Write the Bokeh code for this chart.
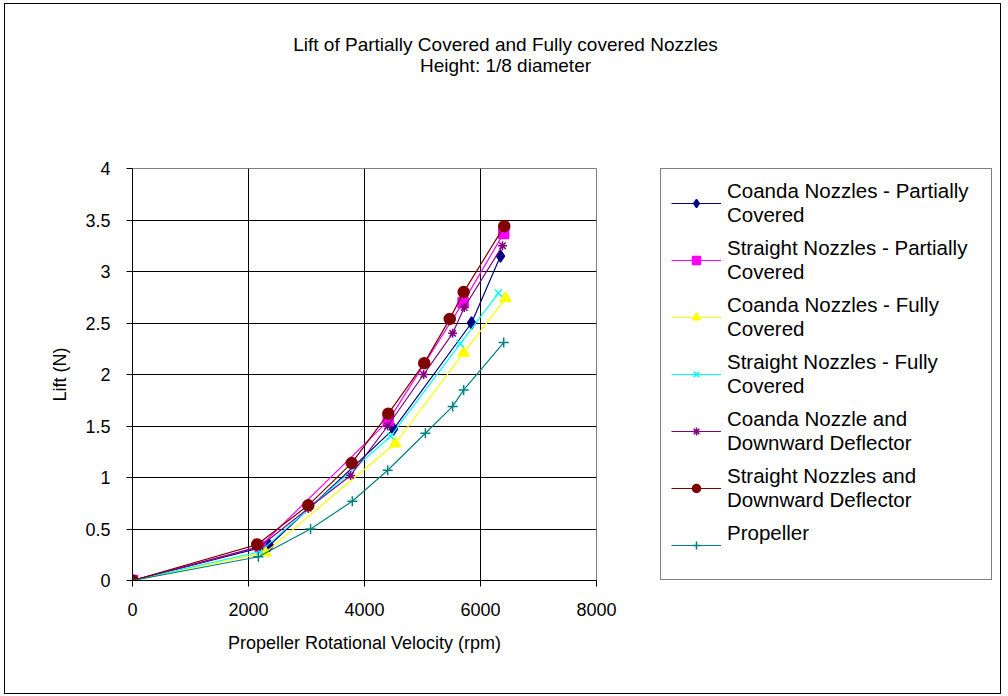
from bokeh.plotting import figure
from bokeh.models import Legend, LegendItem, FixedTicker, Range1d
from bokeh.layouts import column, row
from bokeh.embed import file_html
from bokeh.resources import INLINE
from bokeh.core.properties import value

# ---- data ----
coanda_partial_rpm = [0, 2360, 4500, 5845, 6345]
coanda_partial_lift = [0, 0.34, 1.47, 2.50, 3.15]

straight_partial_rpm = [0, 2200, 4410, 5700, 6400]
straight_partial_lift = [0, 0.33, 1.55, 2.70, 3.37]

coanda_full_rpm = [0, 2290, 4530, 5710, 6430]
coanda_full_lift = [0, 0.27, 1.33, 2.21, 2.74]

straight_full_rpm = [0, 2200, 4450, 5650, 6310]
straight_full_lift = [0, 0.28, 1.40, 2.30, 2.79]

coanda_defl_rpm = [0, 2200, 3030, 3760, 4400, 5020, 5520, 5720, 6380]
coanda_defl_lift = [0, 0.33, 0.70, 1.02, 1.50, 2.00, 2.40, 2.65, 3.25]

straight_defl_rpm = [0, 2150, 3030, 3780, 4410, 5030, 5470, 5710, 6410]
straight_defl_lift = [0, 0.35, 0.73, 1.14, 1.62, 2.11, 2.54, 2.80, 3.44]

propeller_rpm = [0, 2170, 3070, 3790, 4400, 5050, 5520, 5710, 6400]
propeller_lift = [0, 0.23, 0.50, 0.77, 1.07, 1.43, 1.69, 1.85, 2.31]

series_names = [
    "Coanda Nozzles - Partially\nCovered",
    "Straight Nozzles - Partially\nCovered",
    "Coanda Nozzles - Fully\nCovered",
    "Straight Nozzles - Fully\nCovered",
    "Coanda Nozzle and\nDownward Deflector",
    "Straight Nozzles and\nDownward Deflector",
    "Propeller\n ",
]
series_x = [coanda_partial_rpm, straight_partial_rpm, coanda_full_rpm, straight_full_rpm,
            coanda_defl_rpm, straight_defl_rpm, propeller_rpm]
series_y = [coanda_partial_lift, straight_partial_lift, coanda_full_lift, straight_full_lift,
            coanda_defl_lift, straight_defl_lift, propeller_lift]
series_colors = ["#000080", "#FF00FF", "#FFFF00", "#00FFFF", "#800080", "#800000", "#008080"]
series_markers = ["diamond", "square", "triangle", "x", "asterisk", "circle", "cross"]
series_sizes = [12, 10, 11, 10, 9, 11, 10]

title_line1 = "Lift of Partially Covered and Fully covered Nozzles"
title_line2 = "Height: 1/8 diameter"

x_ticks = [0, 2000, 4000, 6000, 8000]
y_ticks = [0, 0.5, 1, 1.5, 2, 2.5, 3, 3.5, 4]

FONT = "Liberation Sans"

TOTAL_W, TOTAL_H = 995, 689
TITLE_H = 110
BODY_H = TOTAL_H - TITLE_H
MAIN_W = 621
LEG_W = TOTAL_W - MAIN_W


def blank_figure(w, h, xr, yr):
    f = figure(width=w, height=h, output_backend="svg", toolbar_location=None,
               x_range=xr, y_range=yr, x_axis_type=None, y_axis_type=None,
               min_border=0, min_border_left=0, min_border_right=0,
               min_border_top=0, min_border_bottom=0)
    f.outline_line_color = None
    f.xgrid.visible = False
    f.ygrid.visible = False
    f.background_fill_color = "white"
    f.border_fill_color = "white"
    return f


# ---- title strip ----
tfig = blank_figure(TOTAL_W, TITLE_H, Range1d(0, TOTAL_W), Range1d(0, TITLE_H))
tfig.text(x=[500, 500], y=[TITLE_H - 40, TITLE_H - 61], text=[title_line1, title_line2],
          text_align="center", text_baseline="middle", text_font=value(FONT),
          text_font_size="19px", text_color="black")

# ---- main plot ----
p = figure(width=MAIN_W, height=BODY_H, output_backend="svg", toolbar_location=None,
           x_range=Range1d(0, 8000), y_range=Range1d(0, 4),
           min_border_left=127, min_border_right=MAIN_W - 591,
           min_border_top=164 - TITLE_H, min_border_bottom=TOTAL_H - 576)
p.outline_line_color = "#808080"
p.outline_line_width = 1
p.background_fill_color = "white"
p.border_fill_color = "white"

for ax in (p.xaxis[0], p.yaxis[0]):
    ax.axis_line_color = "black"
    ax.major_tick_line_color = "black"
    ax.major_tick_out = 6
    ax.major_tick_in = 0
    ax.minor_tick_line_color = None
    ax.major_label_text_font = FONT
    ax.major_label_text_font_size = "18px"
    ax.major_label_text_color = "black"
    ax.axis_label_text_font = FONT
    ax.axis_label_text_font_size = "18px"
    ax.axis_label_text_font_style = "normal"
    ax.axis_label_text_color = "black"

p.xaxis.ticker = FixedTicker(ticks=x_ticks)
p.yaxis.ticker = FixedTicker(ticks=y_ticks)
p.xaxis.axis_label = "Propeller Rotational Velocity (rpm)"
p.yaxis.axis_label = "Lift (N)"
p.xaxis.major_label_standoff = 16
p.yaxis.major_label_standoff = 16
p.xaxis.axis_label_standoff = 14
p.yaxis.axis_label_standoff = 12

p.xgrid.grid_line_color = "black"
p.ygrid.grid_line_color = "black"
p.xgrid.ticker = FixedTicker(ticks=x_ticks)
p.ygrid.ticker = FixedTicker(ticks=y_ticks)

for xs, ys, c, m, s in zip(series_x, series_y, series_colors, series_markers, series_sizes):
    p.line(xs, ys, line_color=c, line_width=1.2)
    p.scatter(xs, ys, marker=m, size=s, fill_color=c, line_color=c, line_width=1.5)

# ---- legend panel: same series, out of this panel's view, only their legend samples show ----
lfig = blank_figure(LEG_W, BODY_H, Range1d(-30000, -20000), Range1d(-30, -20))
items = []
for name, xs, ys, c, m, s in zip(series_names, series_x, series_y, series_colors,
                                 series_markers, series_sizes):
    r1 = lfig.line(xs, ys, line_color=c, line_width=1.2)
    r2 = lfig.scatter(xs, ys, marker=m, size=s, fill_color=c, line_color=c, line_width=1.5)
    items.append(LegendItem(label=name, renderers=[r1, r2]))

legend = Legend(items=items, location=(655 - 591 - (MAIN_W - 591), 0))
legend.label_text_font = FONT
legend.label_text_font_size = "20.5px"
legend.label_text_line_height = 1.2
legend.label_text_color = "black"
legend.label_width = 254
legend.glyph_width = 50
legend.glyph_height = 20
legend.label_standoff = 6
legend.padding = 10
legend.spacing = 9
legend.margin = 0
legend.border_line_color = "black"
legend.border_line_width = 1
legend.background_fill_color = "white"
legend.background_fill_alpha = 1
lfig.add_layout(legend, "center")

layout = column(tfig, row(p, lfig, spacing=0), spacing=0)
layout.styles = {"border": "1px solid #000000", "margin-left": "4px", "margin-top": "3px"}

open("out.html", "w").write(file_html(layout, INLINE))
